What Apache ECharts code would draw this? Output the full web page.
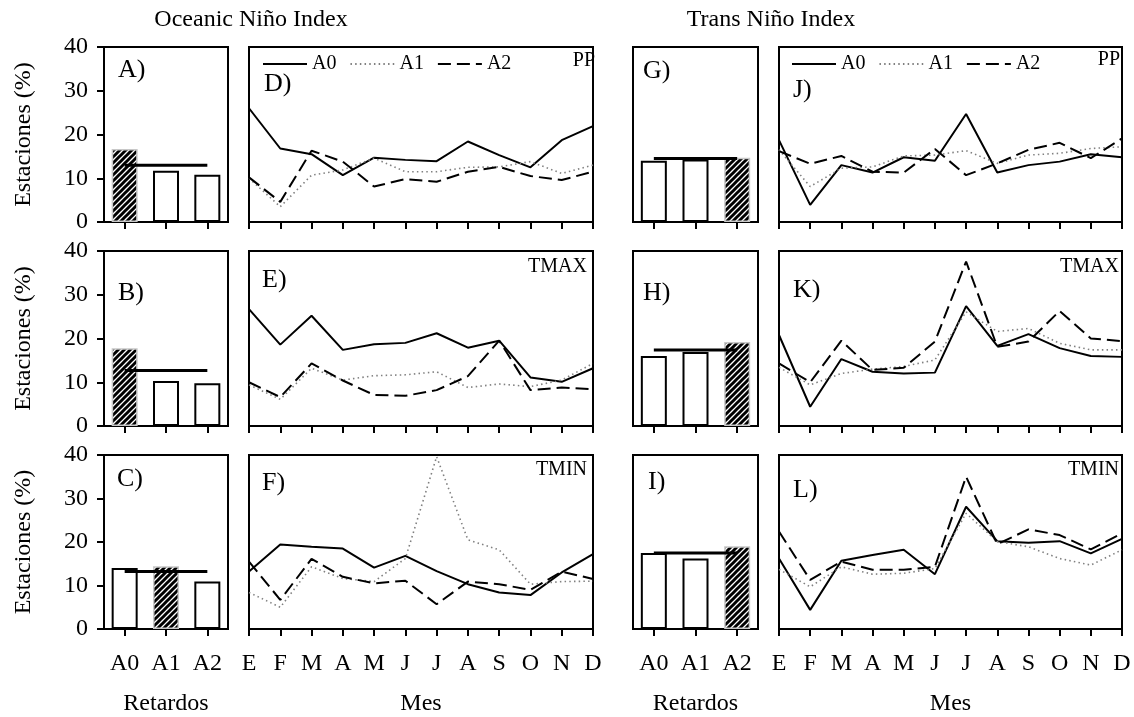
<!DOCTYPE html>
<html>
<head>
<meta charset="utf-8">
<script src="https://cdn.jsdelivr.net/npm/echarts@6/dist/echarts.min.js"></script>
<style>html,body{margin:0;padding:0;background:#fff}#c{width:1134px;height:717px}</style>
</head>
<body>
<div id="c"></div>
<script>
// ---------- data ----------
const lags = ['A0', 'A1', 'A2'];
const months = ['E', 'F', 'M', 'A', 'M', 'J', 'J', 'A', 'S', 'O', 'N', 'D'];
const yTicks = [0, 10, 20, 30, 40];

// bar panels (percentage of stations per lag) and their mean line
const barsA = [16.7, 11.7, 10.8]; const meanA = 13.0;
const barsB = [17.8, 10.3, 9.8];  const meanB = 12.7;
const barsC = [14.0, 14.4, 10.9]; const meanC = 13.2;
const barsG = [14.0, 14.3, 14.7]; const meanG = 14.5;
const barsH = [16.0, 16.9, 19.2]; const meanH = 17.4;
const barsI = [17.5, 16.2, 19.0]; const meanI = 17.5;

// monthly panels
const ppONI_A0 = [26.0, 16.8, 15.5, 10.7, 14.7, 14.2, 13.9, 18.4, 15.3, 12.5, 18.7, 21.9];
const ppONI_A1 = [10.0, 3.5, 10.7, 11.9, 14.6, 11.5, 11.5, 12.5, 12.6, 13.8, 11.1, 13.0];
const ppONI_A2 = [10.2, 4.6, 16.3, 13.8, 8.1, 9.8, 9.2, 11.5, 12.6, 10.5, 9.6, 11.5];

const tmaxONI_A0 = [26.7, 18.6, 25.2, 17.4, 18.7, 19.0, 21.2, 17.9, 19.5, 11.1, 10.1, 13.2];
const tmaxONI_A1 = [9.4, 6.1, 13.2, 10.5, 11.5, 11.7, 12.4, 8.8, 9.6, 9.0, 10.5, 14.3];
const tmaxONI_A2 = [10.0, 6.6, 14.3, 10.4, 7.1, 6.9, 8.2, 11.4, 19.5, 8.2, 8.8, 8.4];

const tminONI_A0 = [13.2, 19.4, 18.9, 18.5, 14.1, 16.8, 13.3, 10.3, 8.4, 7.8, 13.0, 17.2];
const tminONI_A1 = [8.4, 5.0, 14.3, 11.6, 10.9, 16.2, 39.6, 20.5, 18.2, 10.3, 10.9, 11.0];
const tminONI_A2 = [15.5, 6.7, 16.1, 12.0, 10.5, 11.1, 5.7, 10.9, 10.3, 9.0, 13.2, 11.5];

const ppTNI_A0 = [18.7, 3.9, 13.0, 11.3, 14.8, 14.0, 24.7, 11.3, 13.0, 13.8, 15.5, 14.8];
const ppTNI_A1 = [16.5, 8.1, 12.3, 12.6, 15.1, 15.3, 16.3, 13.4, 15.3, 15.7, 16.8, 17.2];
const ppTNI_A2 = [16.2, 13.3, 15.1, 11.5, 11.3, 16.7, 10.7, 13.4, 16.5, 18.1, 14.6, 19.1];

const tmaxTNI_A0 = [20.8, 4.4, 15.3, 12.4, 12.0, 12.2, 27.4, 18.3, 21.0, 17.8, 16.0, 15.8];
const tmaxTNI_A1 = [13.4, 9.4, 12.0, 13.0, 13.6, 15.1, 26.1, 21.6, 22.3, 18.9, 17.4, 17.4];
const tmaxTNI_A2 = [14.3, 10.0, 19.5, 12.8, 13.3, 19.3, 37.6, 18.1, 19.3, 26.3, 20.0, 19.4];

const tminTNI_A0 = [16.2, 4.4, 15.7, 17.0, 18.2, 12.6, 28.1, 20.2, 19.8, 20.2, 17.4, 20.7];
const tminTNI_A1 = [13.7, 9.7, 14.3, 12.6, 12.8, 13.9, 26.6, 20.1, 18.9, 16.2, 14.7, 18.2];
const tminTNI_A2 = [22.4, 11.3, 15.5, 13.6, 13.6, 14.3, 35.0, 19.5, 22.9, 21.6, 18.3, 22.0];

// ---------- layout & style ----------
const FONT = 'Liberation Serif, "DejaVu Serif", serif';
const rows = [{ top: 47, h: 175 }, { top: 251, h: 175 }, { top: 455, h: 174 }];
const cols = [{ left: 104, w: 124, bar: true }, { left: 249, w: 344 }, { left: 633, w: 125, bar: true }, { left: 779, w: 343 }];

function hatch() {
  const c = document.createElement('canvas');
  c.width = 6; c.height = 6;
  const g = c.getContext('2d');
  g.fillStyle = '#fff'; g.fillRect(0, 0, 6, 6);
  g.strokeStyle = '#000'; g.lineWidth = 3;
  g.beginPath();
  g.moveTo(-1, 7); g.lineTo(7, -1);
  g.moveTo(-4, 4); g.lineTo(4, -4);
  g.moveTo(2, 10); g.lineTo(10, 2);
  g.stroke();
  return c;
}
const hatchPattern = { image: hatch(), repeat: 'repeat' };

const barPanels = [
  [barsA, meanA], [barsB, meanB], [barsC, meanC],
  [barsG, meanG], [barsH, meanH], [barsI, meanI]
];
const linePanels = [
  [ppONI_A0, ppONI_A1, ppONI_A2], [tmaxONI_A0, tmaxONI_A1, tmaxONI_A2], [tminONI_A0, tminONI_A1, tminONI_A2],
  [ppTNI_A0, ppTNI_A1, ppTNI_A2], [tmaxTNI_A0, tmaxTNI_A1, tmaxTNI_A2], [tminTNI_A0, tminTNI_A1, tminTNI_A2]
];
const lineStyles = [
  { color: '#000', width: 2, type: 'solid' },
  { color: '#808080', width: 1.6, type: [1.5, 3.2] },
  { color: '#000', width: 2, type: [13, 6] }
];

const grid = [], xAxis = [], yAxis = [], series = [];
rows.forEach((r, ri) => {
  cols.forEach((c, ci) => {
    const gi = grid.length;
    grid.push({ left: c.left, top: r.top, width: c.w, height: r.h, show: true, borderColor: '#000', borderWidth: 2 });
    const bottom = ri === 2;
    xAxis.push({
      type: 'category', gridIndex: gi, data: c.bar ? lags : months,
      boundaryGap: !!c.bar,
      axisLine: { lineStyle: { color: '#000', width: 2 } },
      axisTick: { show: true, length: 7, interval: 0, alignWithLabel: true, lineStyle: { color: '#000', width: 2 } },
      axisLabel: { show: bottom, interval: 0, fontFamily: FONT, fontSize: 24, color: '#000', margin: 23 },
      name: bottom ? (c.bar ? 'Retardos' : 'Mes') : '',
      nameLocation: 'middle', nameGap: 63,
      nameTextStyle: { fontFamily: FONT, fontSize: 24, color: '#000' }
    });
    const leftCol = ci === 0;
    yAxis.push({
      type: 'value', gridIndex: gi, min: yTicks[0], max: yTicks[yTicks.length - 1], interval: yTicks[1] - yTicks[0],
      splitLine: { show: false },
      axisLine: { show: leftCol, lineStyle: { color: '#000', width: 2 } },
      axisTick: { show: leftCol, length: 7, lineStyle: { color: '#000', width: 2 } },
      axisLabel: { show: leftCol, fontFamily: FONT, fontSize: 24, color: '#000', margin: 16 },
      name: leftCol ? 'Estaciones (%)' : '', nameLocation: 'middle', nameGap: 68, nameRotate: 90,
      nameTextStyle: { fontFamily: FONT, fontSize: 24, color: '#000' }
    });
    if (c.bar) {
      const [vals, mean] = barPanels[(ci === 0 ? 0 : 3) + ri];
      const maxV = Math.max(...vals);
      series.push({
        type: 'bar', name: 'bars' + gi, xAxisIndex: gi, yAxisIndex: gi, barWidth: 26,
        data: vals.map(v => v === maxV
          ? { value: v, itemStyle: { color: hatchPattern, borderColor: '#c8c8c8', borderWidth: 1.5 } }
          : { value: v, itemStyle: { color: '#fff', borderColor: '#000', borderWidth: 2 } }),
        silent: true
      });
      series.push({
        type: 'line', name: 'mean' + gi, xAxisIndex: gi, yAxisIndex: gi, symbol: 'none', z: 5,
        data: vals.map(() => mean), lineStyle: { color: '#000', width: 3 }, silent: true
      });
    } else {
      const sets = linePanels[(ci === 1 ? 0 : 3) + ri];
      sets.forEach((d, k) => {
        series.push({
          type: 'line', name: lags[k], xAxisIndex: gi, yAxisIndex: gi, symbol: 'none',
          data: d, lineStyle: lineStyles[k], itemStyle: { color: lineStyles[k].color }, silent: true
        });
      });
    }
  });
});

const legendBase = {
  top: 49, itemWidth: 44, itemHeight: 14, itemGap: 13, data: lags, selectedMode: false,
  itemStyle: { color: 'rgba(0,0,0,0)', borderWidth: 0, opacity: 0 },
  textStyle: { fontFamily: FONT, fontSize: 20, color: '#000' }
};

const txt = (x, y, t, size, align) => ({
  type: 'text', x: x, y: y,
  style: { text: t, fontFamily: FONT, fontSize: size, fill: '#000', textAlign: align || 'left', textVerticalAlign: 'middle' }
});

const graphic = [
  txt(251, 20, 'Oceanic Niño Index', 24, 'center'),
  txt(771, 20, 'Trans Niño Index', 24, 'center'),
  txt(118, 70, 'A)', 26), txt(264, 84, 'D)', 26), txt(643, 71, 'G)', 26), txt(793, 90, 'J)', 26),
  txt(118, 293, 'B)', 26), txt(262, 280, 'E)', 26), txt(643, 293, 'H)', 26), txt(793, 290, 'K)', 26),
  txt(117, 479, 'C)', 26), txt(262, 483, 'F)', 26), txt(648, 482, 'I)', 26), txt(793, 490, 'L)', 26),
  txt(595, 61, 'PP', 20, 'right'), txt(1120, 60, 'PP', 20, 'right'),
  txt(587, 267, 'TMAX', 20, 'right'), txt(1119, 267, 'TMAX', 20, 'right'),
  txt(587, 470, 'TMIN', 20, 'right'), txt(1119, 470, 'TMIN', 20, 'right')
];

const chart = echarts.init(document.getElementById('c'), null, { renderer: 'canvas' });
chart.setOption({
  animation: false,
  backgroundColor: '#fff',
  grid, xAxis, yAxis, series,
  legend: [Object.assign({ left: 257 }, legendBase), Object.assign({ left: 786 }, legendBase)],
  graphic
});
</script>
</body>
</html>
